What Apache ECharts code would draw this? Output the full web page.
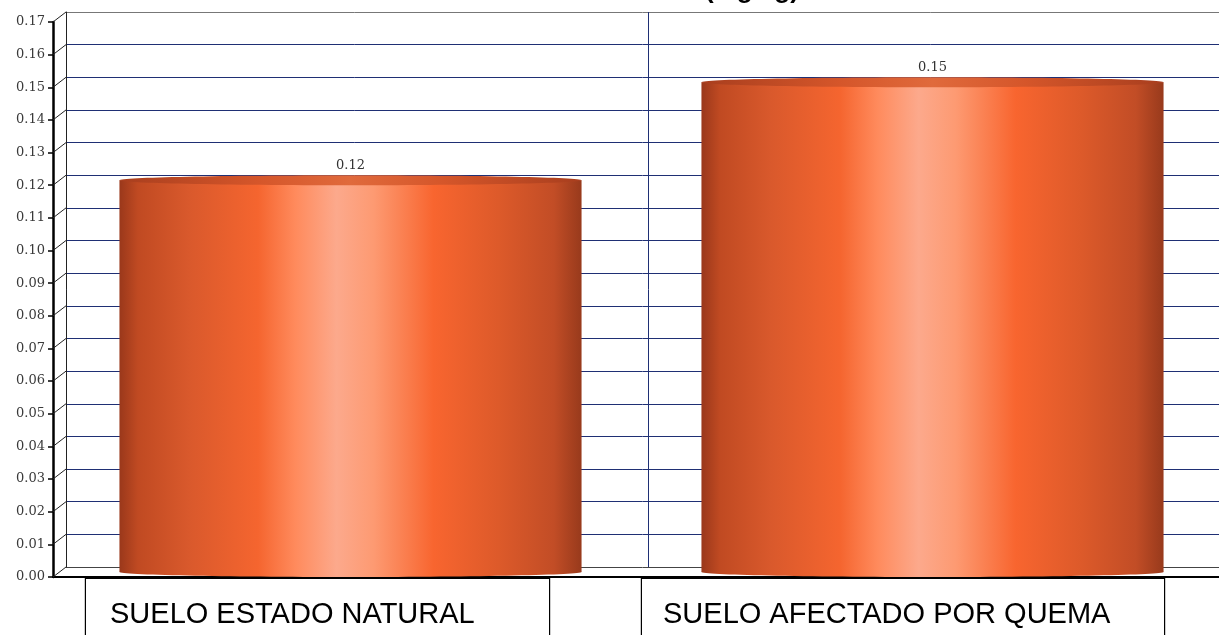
<!DOCTYPE html>
<html>
<head>
<meta charset="utf-8">
<script src="https://cdn.jsdelivr.net/npm/echarts@6/dist/echarts.min.js"></script>
<style>html,body{margin:0;padding:0;background:#fff;}#c{width:1219px;height:635px;}</style>
</head>
<body>
<div id="c"></div>
<script>
const titleText = '(mg/kg)';
const categories = ['SUELO ESTADO NATURAL', 'SUELO AFECTADO POR QUEMA'];
const values = [0.12, 0.15];
const yTicks = [0, 0.01, 0.02, 0.03, 0.04, 0.05, 0.06, 0.07, 0.08, 0.09, 0.10, 0.11, 0.12, 0.13, 0.14, 0.15, 0.16, 0.17];

// layout constants (pixels)
const W = 1219;
const BAND = 582;          // pixel width of one category band
const DX = 13, DY = 10;    // 3D depth offset
const BAR_FRAC = 0.794;    // bar width as fraction of band
const ELL_H = 10;          // cylinder cap ellipse height
const NAVY = '#1f2f74';
const splitColors = yTicks.map((v, i) => i === 0 ? '#444' : (i === yTicks.length - 1 ? '#777' : NAVY));

const backLeft = 66, midLeft = 59.5;

const bodyGrad = new echarts.graphic.LinearGradient(0, 0, 1, 0, [
  {offset: 0, color: '#9a381b'},
  {offset: 0.04, color: '#c04a22'},
  {offset: 0.15, color: '#d9592c'},
  {offset: 0.3, color: '#f5652f'},
  {offset: 0.38, color: '#ff8a5c'},
  {offset: 0.47, color: '#fca98c'},
  {offset: 0.55, color: '#fd9a72'},
  {offset: 0.68, color: '#f8652f'},
  {offset: 0.82, color: '#dd5a2a'},
  {offset: 0.94, color: '#c24d26'},
  {offset: 1, color: '#983a1c'}
]);
const topGrad = new echarts.graphic.LinearGradient(0, 0, 1, 0, [
  {offset: 0, color: '#a83e1e'},
  {offset: 0.3, color: '#d5562a'},
  {offset: 0.5, color: '#e06a3c'},
  {offset: 0.7, color: '#d5562a'},
  {offset: 1, color: '#a83e1e'}
]);

const chart = echarts.init(document.getElementById('c'), null, {renderer: 'canvas'});
const yMin = 0, yMax = 0.17, yInt = 0.01;
const labelFont = 'DejaVu Serif';

chart.setOption({
  animation: false,
  backgroundColor: '#fff',
  title: {
    text: titleText, left: 700, top: -27,
    textStyle: {fontFamily: 'Liberation Sans', fontSize: 26, fontWeight: 'bold', color: '#000'}
  },
  grid: [
    {left: 53, top: 22, bottom: 58, right: 0, outerBoundsMode: 'none'},
    {left: backLeft, top: 12, bottom: 68, right: 0, outerBoundsMode: 'none'},
    {left: midLeft, top: 17, bottom: 63, right: 0, outerBoundsMode: 'none'},
    {left: 24.75, top: 22, bottom: 57, right: 23.25, outerBoundsMode: 'none'}
  ],
  xAxis: [
    {gridIndex: 0, type: 'value', min: 0, max: (W - 53) / BAND, axisLine: {show: true, onZero: false, lineStyle: {color: '#000', width: 2}},
      axisTick: {show: false}, axisLabel: {show: false}, splitLine: {show: false}},
    {gridIndex: 1, type: 'value', min: 0, max: (W - backLeft) / BAND, interval: 1,
      axisLine: {show: false}, axisTick: {show: false},
      axisLabel: {show: false}, splitLine: {show: true, lineStyle: {color: NAVY, width: 1}}},
    {gridIndex: 2, type: 'value', min: 0, max: (W - midLeft) / BAND, show: false},
    {gridIndex: 3, type: 'category', data: categories, axisLine: {show: false}, axisTick: {show: false},
      axisLabel: {
        interval: 0, margin: 18, verticalAlign: 'top',
        formatter: (v, i) => (i === 0 ? '{a|' : '{b|') + v + '}',
        rich: {
          a: {width: 439, height: 65, padding: [3, 0, 0, 24], align: 'left',
            borderColor: '#000', borderWidth: 1.2, backgroundColor: '#fff',
            fontFamily: 'Liberation Sans', fontSize: 29, color: '#000', lineHeight: 34},
          b: {width: 501, height: 65, padding: [3, 0, 0, 21], align: 'left',
            borderColor: '#000', borderWidth: 1.2, backgroundColor: '#fff',
            fontFamily: 'Liberation Sans', fontSize: 29, color: '#000', lineHeight: 34}
        }
      }}
  ],
  yAxis: [
    {gridIndex: 0, type: 'value', min: yMin, max: yMax, interval: yInt,
      axisLine: {show: true, onZero: false, lineStyle: {color: '#000', width: 2.5}},
      axisTick: {show: true, length: 5, lineStyle: {color: '#000', width: 1.5}},
      splitLine: {show: false},
      axisLabel: {margin: 8, formatter: v => v.toFixed(2), fontFamily: labelFont, fontSize: 13, color: '#3a3a3a'}},
    {gridIndex: 1, type: 'value', min: yMin, max: yMax, interval: yInt,
      axisLine: {show: true, onZero: false, lineStyle: {color: '#222', width: 1}}, axisTick: {show: false}, axisLabel: {show: false},
      splitLine: {show: true, lineStyle: {color: splitColors, width: 1}}},
    {gridIndex: 2, type: 'value', min: yMin, max: yMax, interval: yInt, show: false},
    {gridIndex: 3, type: 'value', min: yMin, max: yMax, show: false}
  ],
  series: [
    {
      type: 'custom', xAxisIndex: 0, yAxisIndex: 0, clip: false, z: 3,
      data: yTicks.map(v => [0, v]),
      renderItem: (params, api) => {
        const p = api.coord([0, api.value(1)]);
        return {type: 'line', shape: {x1: p[0], y1: p[1], x2: p[0] + DX, y2: p[1] - DY},
          style: {stroke: '#222', lineWidth: 1}};
      }
    },
    {
      type: 'custom', xAxisIndex: 2, yAxisIndex: 2, clip: false, z: 4,
      data: values.map((v, i) => [i + 0.5, v]),
      renderItem: (params, api) => {
        const xv = api.value(0), v = api.value(1);
        const top = api.coord([xv, v]);
        const base = api.coord([xv, 0]);
        const w = api.size([BAR_FRAC, 0])[0];
        const cx = top[0];
        return {
          type: 'group',
          children: [
            {type: 'ellipse', shape: {cx: cx, cy: base[1], rx: w / 2, ry: ELL_H / 2}, style: {fill: bodyGrad}},
            {type: 'rect', shape: {x: cx - w / 2, y: top[1], width: w, height: base[1] - top[1]}, style: {fill: bodyGrad}},
            {type: 'ellipse', shape: {cx: cx, cy: top[1], rx: w / 2, ry: ELL_H / 2}, style: {fill: topGrad}},
            {type: 'text', style: {text: v.toFixed(2), x: cx, y: top[1] - ELL_H / 2 - 2, align: 'center', verticalAlign: 'bottom',
              font: '13px "DejaVu Serif"', fill: '#333', backgroundColor: '#fff', padding: [1, 3]}}
          ]
        };
      }
    }
  ]
});
</script>
</body>
</html>
